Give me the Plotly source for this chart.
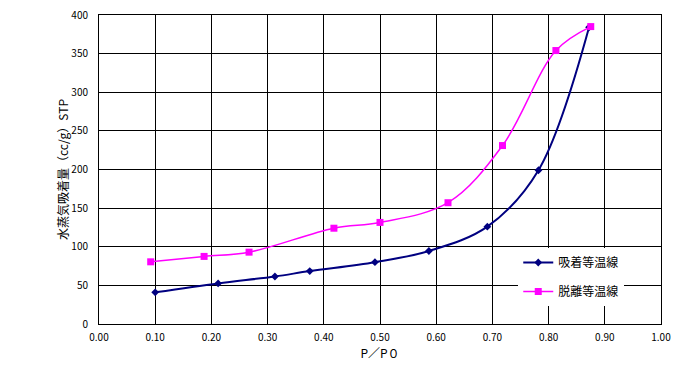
import plotly.graph_objects as go

ads_x = [0.10, 0.212, 0.313, 0.375, 0.491, 0.587, 0.691, 0.782, 0.872]
ads_y = [41, 52.5, 61.5, 68.5, 80, 94.5, 126, 199, 384]
des_x = [0.092, 0.187, 0.267, 0.418, 0.500, 0.621, 0.718, 0.813, 0.875]
des_y = [80.5, 87.5, 93, 124, 131.5, 157, 231, 354, 385]

series_names = ["吸着等温線", "脱離等温線"]

font_main = "Noto Sans CJK JP"

fig = go.Figure()
fig.add_trace(go.Scatter(
    x=ads_x, y=ads_y, name=series_names[0], mode="lines+markers",
    line=dict(color="#000080", width=2, shape="spline", smoothing=1),
    marker=dict(symbol="diamond", size=6, color="#000080"),
    legendgroup="a"))
fig.add_trace(go.Scatter(
    x=des_x, y=des_y, name=series_names[1], mode="lines+markers",
    line=dict(color="#FF00FF", width=1.5, shape="spline", smoothing=1),
    marker=dict(symbol="square", size=7, color="#FF00FF"),
    legendgroup="b"))

# page body has an 8px default margin, so the figure is sized to compensate
fig.update_layout(
    width=672, height=372,
    margin=dict(l=91, r=19, t=7, b=56, autoexpand=False),
    paper_bgcolor="white", plot_bgcolor="white",
    font=dict(family=font_main, size=10, color="black"),
    legend=dict(x=0.746, y=0.246, xanchor="left", yanchor="top",
                bgcolor="white", borderwidth=0,
                font=dict(family=font_main, size=12, color="black"),
                tracegroupgap=10, itemwidth=30),
    xaxis=dict(range=[0, 1], dtick=0.1, tick0=0, tickformat=".2f",
               showgrid=True, gridcolor="black", gridwidth=1,
               showline=True, linecolor="black", linewidth=1, mirror=True,
               ticks="", zeroline=False, automargin=False, ticklabelstandoff=4,
               ticklabeloverflow="allow",
               title=dict(text="P／P０", font=dict(size=12), standoff=6)),
    yaxis=dict(range=[0, 400], dtick=50, tick0=0,
               showgrid=True, gridcolor="black", gridwidth=1,
               showline=True, linecolor="black", linewidth=1, mirror=True,
               ticks="", zeroline=False, automargin=False, ticklabelstandoff=8,
               ticklabeloverflow="allow",
               title=dict(text="水蒸気吸着量（cc/g）STP", font=dict(size=12), standoff=0)),
)

fig.write_html("out.html")
